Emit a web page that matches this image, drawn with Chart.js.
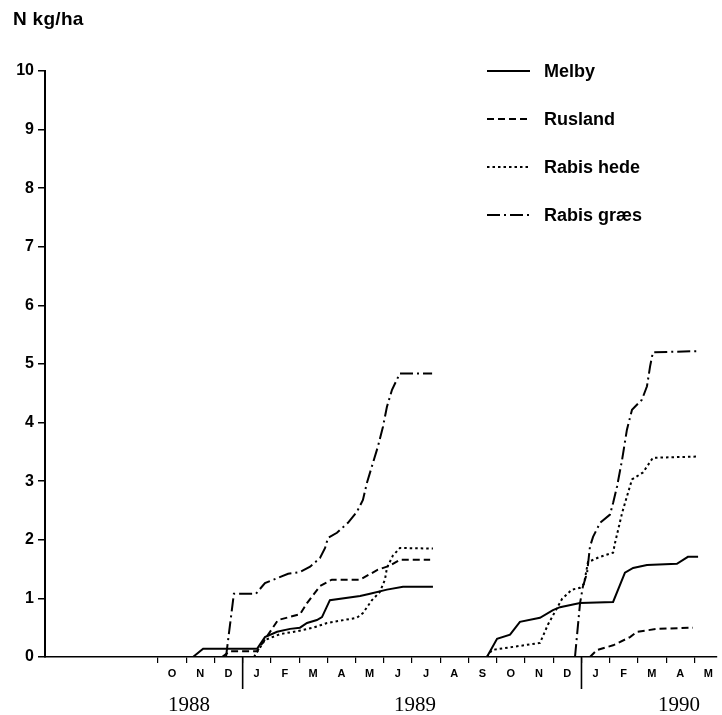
<!DOCTYPE html>
<html>
<head>
<meta charset="utf-8">
<script src="https://cdn.jsdelivr.net/npm/chart.js@4"></script>
<style>
  html, body { margin: 0; padding: 0; background: #fff; }
  #wrap { position: relative; width: 722px; height: 715px; }
  #unit { position: absolute; left: 13px; top: 8px; font: bold 19px "Liberation Sans", Arial, sans-serif; color: #000; letter-spacing: 0.3px; }
</style>
</head>
<body>
<div id="wrap">
  <canvas id="graph" width="722" height="715"></canvas>
  <div id="unit">N kg/ha</div>
</div>
<script>
// months counted from 1 Jan 1988 (12 = 1 Jan 1989, 24 = 1 Jan 1990)
// null separates the 1988/89 season from the 1989/90 season
const melbyX = [10.24, 10.60, 12.51, 12.79, 13.22, 13.68, 14.03, 14.28, 14.63, 14.81, 15.09, 16.16, 16.51, 17.11, 17.68, 18.74,
  19.5, 20.65, 21.01, 21.47, 21.82, 22.53, 22.99, 23.24, 23.95, 25.12, 25.54, 25.83, 26.32, 27.38, 27.77, 28.13];
const melbyY = [0, 0.14, 0.14, 0.34, 0.43, 0.48, 0.50, 0.58, 0.63, 0.68, 0.97, 1.04, 1.08, 1.15, 1.20, 1.20,
  null, 0, 0.31, 0.38, 0.60, 0.67, 0.80, 0.85, 0.92, 0.94, 1.44, 1.52, 1.57, 1.59, 1.71, 1.71];

const ruslandX = [11.27, 11.55, 12.51, 13.25, 14.03, 14.28, 14.74, 15.16, 16.16, 16.79, 17.22, 17.57, 18.64,
  19.5, 24.30, 24.55, 25.12, 25.72, 25.97, 26.68, 27.95];
const ruslandY = [0, 0.10, 0.10, 0.63, 0.73, 0.92, 1.21, 1.32, 1.32, 1.49, 1.56, 1.66, 1.66,
  null, 0, 0.12, 0.20, 0.34, 0.43, 0.48, 0.50];

const hedeX = [12.40, 12.51, 12.79, 13.32, 13.93, 14.49, 14.99, 16.05, 16.26, 16.58, 16.86, 17.04, 17.11, 17.32, 17.57, 18.74,
  19.5, 20.65, 20.83, 22.53, 22.81, 23.06, 23.31, 23.66, 23.95, 24.09, 24.23, 24.66, 25.12, 25.19, 25.44, 25.61, 25.79, 26.18, 26.53, 28.09];
const hedeY = [0, 0.08, 0.29, 0.39, 0.44, 0.50, 0.58, 0.67, 0.75, 0.97, 1.11, 1.32, 1.52, 1.73, 1.86, 1.85,
  null, 0, 0.12, 0.24, 0.55, 0.77, 0.99, 1.15, 1.18, 1.25, 1.62, 1.71, 1.78, 1.95, 2.46, 2.74, 3.03, 3.15, 3.40, 3.42];

const graesX = [11.41, 11.69, 12.47, 12.79, 13.61, 14.03, 14.39, 14.74, 14.92, 15.02, 15.34, 15.73, 16.05, 16.26, 16.40, 16.62, 16.79, 16.97, 17.11, 17.29, 17.57, 18.71,
  19.5, 23.77, 23.95, 24.05, 24.20, 24.30, 24.41, 24.66, 25.01, 25.12, 25.26, 25.44, 25.61, 25.79, 26.14, 26.32, 26.43, 26.53, 28.09];
const graesY = [0, 1.08, 1.08, 1.26, 1.42, 1.45, 1.54, 1.69, 1.86, 2.03, 2.12, 2.29, 2.48, 2.68, 2.97, 3.32, 3.59, 3.93, 4.27, 4.56, 4.84, 4.84,
  null, 0, 0.92, 1.20, 1.44, 1.88, 2.05, 2.29, 2.43, 2.63, 2.91, 3.37, 3.88, 4.22, 4.39, 4.62, 4.96, 5.20, 5.22];

const seriesNames = ['Melby', 'Rusland', 'Rabis hede', 'Rabis græs'];

// month letters from October 1988 to May 1990
const monthLabels = ['O', 'N', 'D', 'J', 'F', 'M', 'A', 'M', 'J', 'J', 'A', 'S', 'O', 'N', 'D', 'J', 'F', 'M', 'A', 'M'];
const firstMonth = 9;
const yearLabels = ['1988', '1989', '1990'];
const yearBreaks = [12, 24];

const zip = (xs, ys) => xs.map((x, i) => ({ x: x, y: ys[i] }));

const lineStyle = (dash) => ({
  borderColor: '#000',
  borderWidth: 2,
  borderDash: dash,
  pointRadius: 0,
  tension: 0,
  spanGaps: false,
  fill: false
});

const ink = '#000';
const sans = '"Liberation Sans", Arial, sans-serif';

// year separators, year names and the legend
const decor = {
  id: 'decor',
  afterDraw(chart) {
    const ctx = chart.ctx;
    const x = chart.scales.x;
    const a = chart.chartArea;
    ctx.save();
    ctx.strokeStyle = ink;
    ctx.fillStyle = ink;
    ctx.lineWidth = 1.6;
    yearBreaks.forEach(m => {
      const px = x.getPixelForValue(m);
      ctx.beginPath();
      ctx.moveTo(px, a.bottom);
      ctx.lineTo(px, a.bottom + 32);
      ctx.stroke();
    });
    ctx.font = '21px "Liberation Serif", "Times New Roman", serif';
    ctx.textAlign = 'center';
    ctx.textBaseline = 'middle';
    const centres = [10.1, 18.1, 27.45];
    yearLabels.forEach((t, i) => ctx.fillText(t, x.getPixelForValue(centres[i]), a.bottom + 48));

    ctx.textAlign = 'left';
    ctx.font = 'bold 18px ' + sans;
    chart.data.datasets.forEach((ds, i) => {
      const yy = a.top + i * 48;
      ctx.setLineDash(ds.borderDash || []);
      ctx.lineWidth = ds.borderWidth;
      ctx.beginPath();
      ctx.moveTo(487, yy);
      ctx.lineTo(530, yy);
      ctx.stroke();
      ctx.setLineDash([]);
      ctx.fillText(ds.label, 544, yy + 1);
    });
    ctx.restore();
  }
};

const ctx = document.getElementById('graph').getContext('2d');
const chart = new Chart(ctx, {
  type: 'line',
  data: {
    datasets: [
      Object.assign({ label: seriesNames[0], data: zip(melbyX, melbyY) }, lineStyle([])),
      Object.assign({ label: seriesNames[1], data: zip(ruslandX, ruslandY) }, lineStyle([7, 4])),
      Object.assign({ label: seriesNames[2], data: zip(hedeX, hedeY) }, lineStyle([2.5, 3])),
      Object.assign({ label: seriesNames[3], data: zip(graesX, graesY) }, lineStyle([13, 4, 2, 4]))
    ]
  },
  options: {
    responsive: false,
    animation: false,
    layout: { padding: { top: 71, right: 5, left: 0, bottom: 0 } },
    plugins: {
      legend: { display: false },
      tooltip: { enabled: false },
      title: { display: false }
    },
    scales: {
      x: {
        type: 'linear',
        min: 5,
        max: 28.8,
        afterBuildTicks: s => { s.ticks = monthLabels.map((_, i) => ({ value: firstMonth + i })); },
        afterFit: s => { s.height = 58; },
        ticks: {
          autoSkip: false,
          maxRotation: 0,
          labelOffset: 14,
          padding: 4,
          color: ink,
          font: { family: sans, weight: 'bold', size: 11 },
          callback: (v, i) => monthLabels[i]
        },
        grid: { drawOnChartArea: false, drawTicks: true, tickLength: 6, color: ink, lineWidth: 1.2 },
        border: { display: true, color: ink, width: 1.6 }
      },
      y: {
        min: 0,
        max: 10,
        afterFit: s => { s.width = 45; },
        ticks: {
          stepSize: 1,
          padding: 4,
          color: ink,
          font: { family: sans, weight: 'bold', size: 16 }
        },
        grid: { drawOnChartArea: false, drawTicks: true, tickLength: 7, color: ink, lineWidth: 1.5 },
        border: { display: true, color: ink, width: 2 }
      }
    }
  },
  plugins: [decor]
});
</script>
</body>
</html>
